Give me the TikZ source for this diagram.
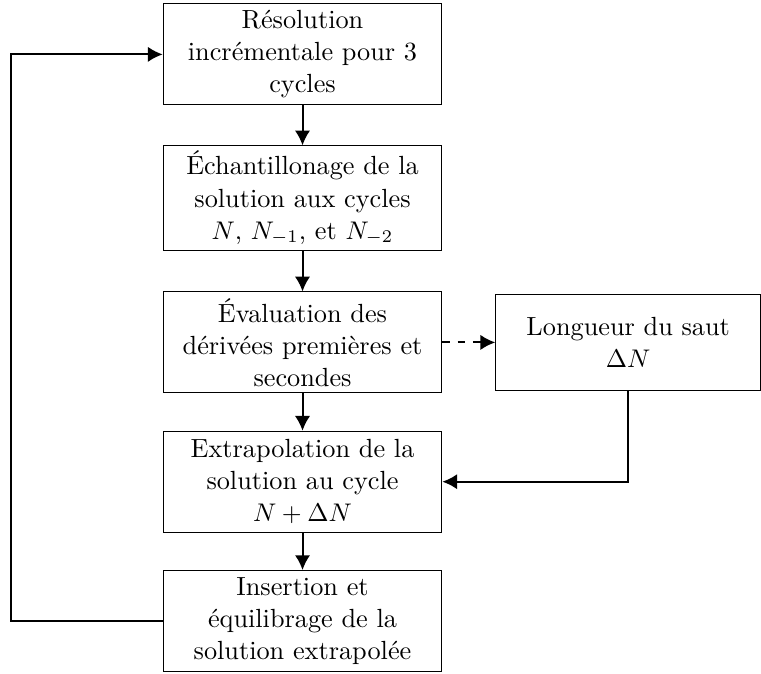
\documentclass[tikz,border=0pt]{standalone}
\usepackage{amsmath,amssymb}
\usepackage{tikz}
\usetikzlibrary{positioning,calc,arrows.meta}
\tikzstyle{etape} = [rectangle, draw, line width=0.4pt,
                     minimum width=3.84cm, minimum height=1.39cm,
                     align=center, inner sep=2pt, font=\fontsize{10.3}{12.6}\selectfont]
\tikzstyle{saut} = [rectangle, draw, line width=0.4pt,
                    minimum width=3.65cm, minimum height=1.32cm,
                    align=center, inner sep=2pt, font=\fontsize{10.3}{12.6}\selectfont]
\tikzstyle{arrow} = [-{Latex[length=5.8pt,width=6pt]}, thick]

\begin{document}
\begin{tikzpicture}
    \useasboundingbox (0,0) rectangle (10.49,-9.28);

    % Main column
    \node[etape] (res) at (4.17,-0.75) {Résolution\\incrémentale pour 3\\cycles};
    \node[etape] (ech) at (4.17,-2.73) {Échantillonage de la\\solution aux cycles\\$N$, $N_{-1}$, et $N_{-2}$};
    \node[etape] (eval) at (4.17,-4.72) {Évaluation des\\dérivées premières et\\secondes};
    \node[etape] (extra) at (4.17,-6.64) {Extrapolation de la\\solution au cycle\\$N+\Delta N$};
    \node[etape] (ins) at (4.17,-8.56) {Insertion et\\équilibrage de la\\solution extrapolée};

    % Jump length
    \node[saut, right=0.73cm of eval] (long) {Longueur du saut\\$\Delta N$};

    \draw[arrow] (res) -- (ech);
    \draw[arrow] (ech) -- (eval);
    \draw[arrow] (eval) -- (extra);
    \draw[arrow] (extra) -- (ins);
    \draw[arrow, dashed] (eval) -- (long);
    \draw[arrow] (long.south) |- (extra.east);

    % Loop back
    \draw[arrow] (ins.west) -- ++(-2.085,0) |- (res.west);
\end{tikzpicture}
\end{document}
